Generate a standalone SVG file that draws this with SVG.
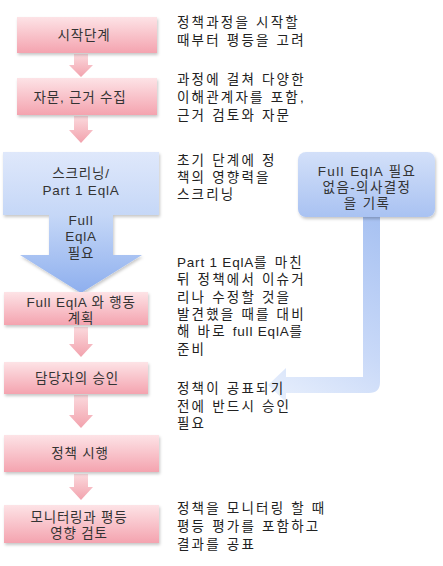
<svg xmlns="http://www.w3.org/2000/svg" width="443" height="566" viewBox="0 0 443 566">
<defs>
<linearGradient id="pink" x1="0" y1="0" x2="0" y2="1">
<stop offset="0" stop-color="#fde3e6"/>
<stop offset="1" stop-color="#f4a3af"/>
</linearGradient>
<linearGradient id="pinkArrow" x1="0" y1="0" x2="0" y2="1">
<stop offset="0" stop-color="#fbd9dd"/>
<stop offset="1" stop-color="#f2a2ad"/>
</linearGradient>
<linearGradient id="blueBig" gradientUnits="userSpaceOnUse" x1="0" y1="152" x2="0" y2="293">
<stop offset="0" stop-color="#dfe8fb"/>
<stop offset="0.45" stop-color="#c5d7f7"/>
<stop offset="1" stop-color="#8eafee"/>
</linearGradient>
<linearGradient id="blueBox" x1="0" y1="0" x2="0" y2="1">
<stop offset="0" stop-color="#d3e0f9"/>
<stop offset="1" stop-color="#a9c2f2"/>
</linearGradient>
<linearGradient id="bent" gradientUnits="userSpaceOnUse" x1="371" y1="217" x2="270" y2="392">
<stop offset="0" stop-color="#a8c2f2"/>
<stop offset="0.6" stop-color="#c9d9f8"/>
<stop offset="1" stop-color="#e6eefc"/>
</linearGradient>
<filter id="sh" x="-10%" y="-10%" width="120%" height="130%">
<feDropShadow dx="1" dy="2" stdDeviation="1.5" flood-color="#000" flood-opacity="0.22"/>
</filter>
</defs>
<style>
.box{fill:url(#pink);filter:url(#sh)}
.arr{fill:url(#pinkArrow)}
.bt{font-family:"Liberation Sans","Noto Sans CJK KR",sans-serif;font-size:13.5px;fill:#333;text-anchor:middle;letter-spacing:0.8px}
.dt{font-family:"Liberation Sans","Noto Sans CJK KR",sans-serif;font-size:13.5px;fill:#222;letter-spacing:2.2px}
.lat{letter-spacing:0.8px}
</style>
<rect width="443" height="566" fill="#fff"/>

<g id="connectors">
<path class="arr" d="M74,54 H88 V65 H93 L81,77 L69,65 H74 Z"/>
<path class="arr" d="M74,116 H88 V130 H93 L81,143 L69,130 H74 Z"/>
<path class="arr" d="M74,327 H88 V344 H93 L81,357 L69,344 H74 Z"/>
<path class="arr" d="M74,395 H88 V415 H93 L81,428 L69,415 H74 Z"/>
<path class="arr" d="M74,474 H88 V487 H93 L81,500 L69,487 H74 Z"/>
<path id="bent-arrow" fill="url(#bent)" d="M363,216 H380 V382 Q380,393 369,393 H286 V402 L268,385 L286,368 V377 H363 Z"/>
</g>

<g id="n1">
<rect class="box" x="17" y="17" width="140" height="36"/>
<text class="bt" x="84" y="40">시작단계</text>
</g>
<g id="n2">
<rect class="box" x="17" y="78" width="140" height="37"/>
<text class="bt" x="80" y="102">자문, 근거 수집</text>
</g>
<g id="n3">
<path fill="url(#blueBig)" filter="url(#sh)" d="M3,152 H159 V215 H113 V255 H142 L81,293 L20,255 H49 V215 H3 Z"/>
<text class="bt" x="81" y="178">스크리닝/</text>
<text class="bt" x="81" y="195">Part 1 EqlA</text>
<text class="bt" x="81" y="225">Full</text>
<text class="bt" x="81" y="241">EqlA</text>
<text class="bt" x="81" y="258">필요</text>
</g>
<g id="n4">
<rect class="box" x="4" y="292" width="144" height="33"/>
<text class="bt" x="81" y="307">Full EqlA 와 행동</text>
<text class="bt" x="81" y="323">계획</text>
</g>
<g id="n5">
<rect class="box" x="4" y="362" width="144" height="32"/>
<text class="bt" x="77" y="383">담당자의 승인</text>
</g>
<g id="n6">
<rect class="box" x="4" y="435" width="155" height="37"/>
<text class="bt" x="80" y="458">정책 시행</text>
</g>
<g id="n7">
<rect class="box" x="4" y="505" width="155" height="38"/>
<text class="bt" x="79" y="522">모니터링과 평등</text>
<text class="bt" x="79" y="538">영향 검토</text>
</g>
<g id="n8">
<rect x="298" y="152" width="137" height="65" rx="8" fill="url(#blueBox)" filter="url(#sh)"/>
<text class="bt" x="367" y="176" style="letter-spacing:1.4px">Full EqlA 필요</text>
<text class="bt" x="367" y="192" style="letter-spacing:1.4px">없음-의사결정</text>
<text class="bt" x="367" y="208" style="letter-spacing:1.4px">을 기록</text>
</g>

<g id="notes">
<text class="dt" x="177" y="27">정책과정을 시작할</text>
<text class="dt" x="177" y="45">때부터 평등을 고려</text>
<text class="dt" x="177" y="84">과정에 걸쳐 다양한</text>
<text class="dt" x="177" y="102">이해관계자를 포함,</text>
<text class="dt" x="177" y="120">근거 검토와 자문</text>
<text class="dt" x="177" y="165">초기 단계에 정</text>
<text class="dt" x="177" y="182">책의 영향력을</text>
<text class="dt" x="177" y="199">스크리닝</text>
<text class="dt" x="177" y="267"><tspan class="lat">Part 1 EqlA</tspan>를 마친</text>
<text class="dt" x="177" y="284">뒤 정책에서 이슈거</text>
<text class="dt" x="177" y="302">리나 수정할 것을</text>
<text class="dt" x="177" y="319">발견했을 때를 대비</text>
<text class="dt" x="177" y="336">해 바로 <tspan class="lat">full EqlA</tspan>를</text>
<text class="dt" x="177" y="354">준비</text>
<text class="dt" x="177" y="393">정책이 공표되기</text>
<text class="dt" x="177" y="411">전에 반드시 승인</text>
<text class="dt" x="177" y="428">필요</text>
<text class="dt" x="177" y="513">정책을 모니터링 할 때</text>
<text class="dt" x="177" y="531">평등 평가를 포함하고</text>
<text class="dt" x="177" y="549">결과를 공표</text>
</g>
</svg>
